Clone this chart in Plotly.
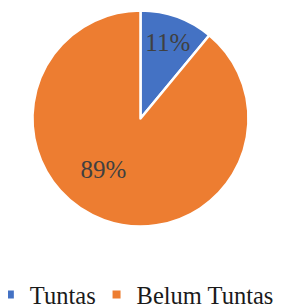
import plotly.graph_objects as go

labels = ["Tuntas", "Belum Tuntas"]
values = [11, 89]
colors = ["#4472C4", "#ED7D31"]

SERIF = "Liberation Serif, Times New Roman, DejaVu Serif, serif"

fig = go.Figure()
fig.add_trace(go.Pie(
    labels=labels,
    values=values,
    marker=dict(colors=colors, line=dict(color="white", width=2.5)),
    sort=False,
    direction="clockwise",
    rotation=0,
    texttemplate=["%{percent:.0%}", "%{percent:.0%}\u00a0\u00a0\u00a0\u00a0\u00a0\u00a0"],
    textposition="inside",
    insidetextorientation="horizontal",
    textfont=dict(family=SERIF, size=25, color="#404040"),
    domain=dict(x=[0.0891, 0.8745], y=[0.2717, 0.9917]),
    hoverinfo="label+percent",
    showlegend=False,
))

# legend entries (one legend per category so they sit on one line like the reference)
legend_names = ["legend", "legend2"]
for lab, col, lg in zip(labels, colors, legend_names):
    fig.add_trace(go.Scatter(
        x=[None], y=[None], mode="markers", name=lab,
        marker=dict(symbol="square", size=8, color=col),
        legend=lg, showlegend=True, hoverinfo="skip",
    ))

leg_common = dict(
    orientation="h",
    yanchor="middle", y=0.045,
    font=dict(family=SERIF, size=24.5, color="#1a1a1a"),
    itemwidth=30, bgcolor="rgba(0,0,0,0)", borderwidth=0,
)

fig.update_layout(
    width=275, height=300,
    margin=dict(l=0, r=0, t=0, b=0, autoexpand=False),
    paper_bgcolor="white",
    plot_bgcolor="white",
    xaxis=dict(visible=False, showgrid=False, zeroline=False),
    yaxis=dict(visible=False, showgrid=False, zeroline=False),
    legend=dict(x=-0.066, xanchor="left", **leg_common),
    legend2=dict(x=0.322, xanchor="left", **leg_common),
)

fig.write_html("out.html")
